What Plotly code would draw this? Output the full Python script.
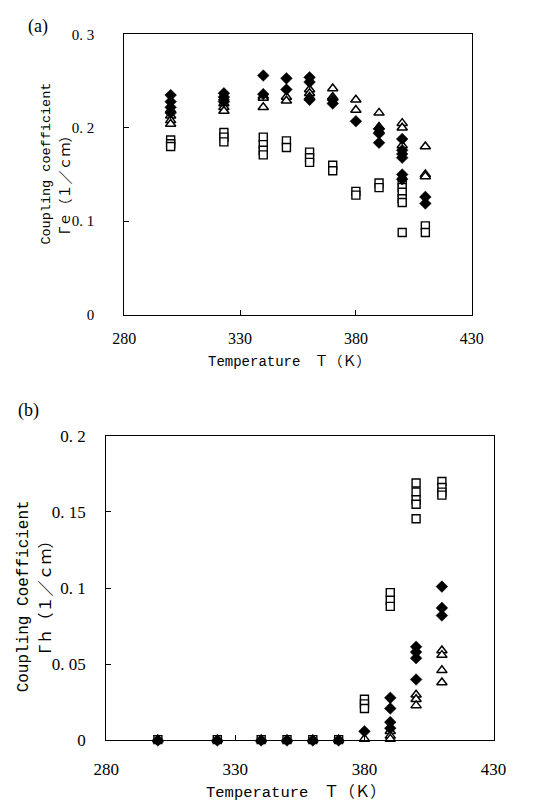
import plotly.graph_objects as go

# ---------------- data ----------------
temps = [300, 323, 340, 350, 360, 370, 380, 390, 400, 410]

# panel (a): Gamma_e (1/cm)
a_squares = [
    [0.187, 0.183, 0.180],
    [0.195, 0.190, 0.185],
    [0.190, 0.182, 0.176, 0.171],
    [0.186, 0.179],
    [0.174, 0.168, 0.163],
    [0.160, 0.154],
    [0.132, 0.128],
    [0.141, 0.136],
    [0.142, 0.136, 0.131, 0.124, 0.120, 0.088],
    [0.095, 0.088],
]
a_diamonds = [
    [0.235, 0.228, 0.222, 0.216],
    [0.237, 0.233, 0.228],
    [0.256, 0.236],
    [0.253, 0.241],
    [0.254, 0.249, 0.230],
    [0.230, 0.226],
    [0.207],
    [0.199, 0.194, 0.184],
    [0.188, 0.176, 0.172, 0.168, 0.150, 0.145],
    [0.126, 0.119],
]
a_triangles = [
    [0.219, 0.213, 0.208, 0.204],
    [0.232, 0.226, 0.222, 0.218],
    [0.234, 0.232, 0.222],
    [0.233, 0.229],
    [0.241, 0.237, 0.233],
    [0.242, 0.233],
    [0.230, 0.219],
    [0.216, 0.201, 0.197],
    [0.205, 0.200, 0.181],
    [0.180, 0.150, 0.148],
]

# panel (b): Gamma_h (1/cm)
b_squares = [
    [0.0005], [0.0005], [0.0005], [0.0005], [0.0005], [0.0005],
    [0.027, 0.024, 0.021],
    [0.097, 0.092, 0.088],
    [0.169, 0.163, 0.158, 0.155, 0.1455],
    [0.170, 0.166, 0.163, 0.161],
]
b_diamonds = [
    [0.0], [0.0], [0.0], [0.0], [0.0], [0.0],
    [0.006],
    [0.028, 0.021, 0.012, 0.008],
    [0.0615, 0.058, 0.054, 0.040],
    [0.101, 0.087, 0.082],
]
b_triangles = [
    [0.0005], [0.0005], [0.0005], [0.0005], [0.0005], [0.0005],
    [0.001],
    [0.006, 0.003, 0.001],
    [0.030, 0.027, 0.023],
    [0.059, 0.056, 0.046, 0.038],
]

x_ticks = [280, 330, 380, 430]
a_yticks = [0, 0.1, 0.2, 0.3]
a_ytext = ["0", "0. 1", "0. 2", "0. 3"]
b_yticks = [0, 0.05, 0.1, 0.15, 0.2]
b_ytext = ["0", "0. 05", "0. 1", "0. 15", "0. 2"]


def flat(groups):
    xs, ys = [], []
    for t, vals in zip(temps, groups):
        for v in vals:
            xs.append(t)
            ys.append(v)
    return xs, ys


W, H = 537, 810
# plot-area pixel boxes (screen coordinates)
A = dict(l=117, r=482, t=26, b=313)
B = dict(l=98, r=505, t=437, b=749)


def dom_x(box):
    return [box["l"] / W, box["r"] / W]


def dom_y(box):
    return [1 - box["b"] / H, 1 - box["t"] / H]


fig = go.Figure()

sq_style = dict(symbol="square", size=8, color="white", line=dict(color="black", width=1.4))
tri_style = dict(symbol="triangle-up", size=9, color="white", line=dict(color="black", width=1.5))
dia_style = dict(symbol="diamond", size=9, color="black", line=dict(color="black", width=0.5))

for groups, style, xa, ya in [
    (a_squares, sq_style, "x", "y"),
    (a_triangles, tri_style, "x", "y"),
    (a_diamonds, dia_style, "x", "y"),
    (b_squares, sq_style, "x2", "y2"),
    (b_triangles, tri_style, "x2", "y2"),
    (b_diamonds, dia_style, "x2", "y2"),
]:
    xs, ys = flat(groups)
    fig.add_trace(go.Scatter(x=xs, y=ys, mode="markers", marker=style,
                             xaxis=xa, yaxis=ya, showlegend=False,
                             cliponaxis=False))

axis_common = dict(showline=True, linecolor="black", linewidth=1.3, mirror=True,
                   ticks="inside", ticklen=5, tickcolor="black", tickwidth=1,
                   showgrid=False, zeroline=False)
serif = "Liberation Serif"

fig.update_layout(
    width=W, height=H,
    margin=dict(l=0, r=0, t=0, b=0),
    paper_bgcolor="white", plot_bgcolor="white",
    xaxis=dict(domain=dom_x(A), anchor="y", range=[280, 430], tickvals=x_ticks,
               tickfont=dict(family=serif, size=16, color="black"),
               ticklabelstandoff=9, **axis_common),
    yaxis=dict(domain=dom_y(A), anchor="x", range=[0, 0.3], tickvals=a_yticks,
               ticktext=a_ytext, tickfont=dict(family=serif, size=15, color="black"),
               ticklabelstandoff=26, **axis_common),
    xaxis2=dict(domain=dom_x(B), anchor="y2", range=[280, 430], tickvals=x_ticks,
                tickfont=dict(family=serif, size=17, color="black"),
                ticklabelstandoff=13, **axis_common),
    yaxis2=dict(domain=dom_y(B), anchor="x2", range=[0, 0.2], tickvals=b_yticks,
                ticktext=b_ytext, tickfont=dict(family=serif, size=17, color="black"),
                ticklabelstandoff=16, **axis_common),
)

mono = "Liberation Mono"
cjk = "Noto Sans CJK JP"


def ann(text, x, y, size, angle=0, family=mono):
    fig.add_annotation(text=text, x=x / W, y=1 - y / H,
                       xref="paper", yref="paper",
                       showarrow=False, textangle=angle, xanchor="center", yanchor="middle",
                       font=dict(family=family, size=size, color="black"))


temp_title = ("Temperature<span style=\"font-family:'Noto Sans CJK JP'\">"
              "　Ｔ（Ｋ）</span>")

# panel labels
ann("(a)", 26, 18, 18, family=serif)
ann("(b)", 16, 411, 18, family=serif)

# panel (a) titles
ann("Coupling coefficient", 35, 158, 13.5, angle=-90)
ann("Γｅ（１／ｃｍ）", 53, 176, 14, angle=-90, family=cjk)
ann(temp_title, 290, 359, 14)

# panel (b) titles
ann("Coupling Coefficient", 11, 601, 16, angle=-90)
ann("Γｈ（１／ｃｍ）", 33, 598, 16, angle=-90, family=cjk)
ann(temp_title, 297, 800, 15.5)

fig.write_html("out.html",
               config={"displayModeBar": False},
               post_script="document.body.style.margin='0px';")
